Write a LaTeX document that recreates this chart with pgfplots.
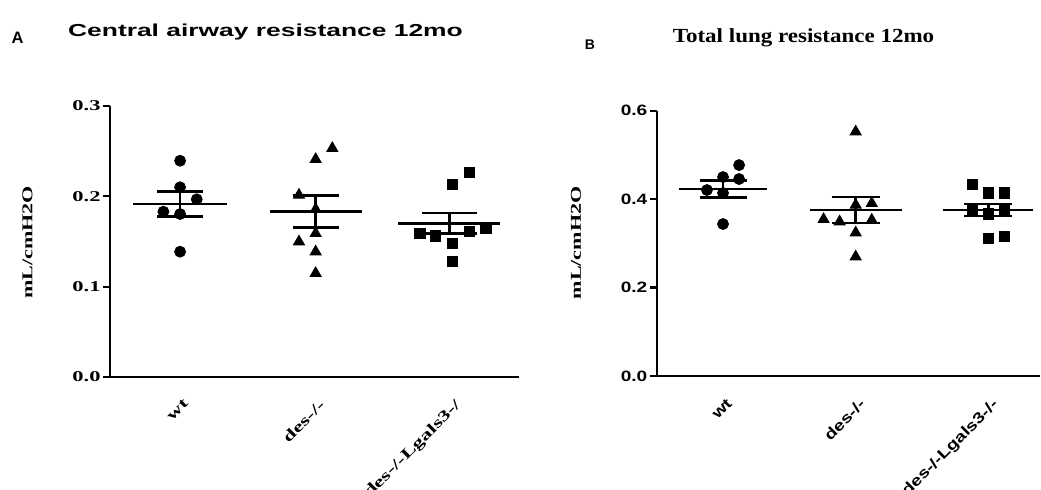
\documentclass[border=0pt]{standalone}
\usepackage{fontspec}
\usepackage{graphicx}
\usepackage{pgfplots}
\pgfplotsset{compat=1.18}
\newfontfamily\arial{Liberation Sans}
\newfontfamily\tnr{Liberation Serif}
\newcommand\sT[1]{\scalebox{1.5}[1]{#1}}
\newcommand\sS[1]{\scalebox{1.27}[1]{#1}}
\begin{document}
\begin{tikzpicture}
\path[use as bounding box] (0,0) rectangle (520.5pt,245pt);
\pgfplotsset{
 common/.style={
  scale only axis, axis lines=left, axis line style={line width=1.2pt, -},
  enlargelimits=false, ymin=0, xtick={0,1,2}, xtick style={draw=none},
  tick align=outside, major tick length=3.5pt,
  ytick style={line width=1.1pt, black},
  clip=false,
  xticklabel style={rotate=45, anchor=north east, inner sep=0pt, yshift=-6pt, xshift=-4pt},
  yticklabel style={inner sep=1pt},
 },
 pts/.style={only marks, black, mark options={fill=black, draw=black, line width=0.5pt}},
 mean/.style 2 args={only marks, black, mark=-, mark size=#1, mark options={line width=1.4pt},
   error bars/.cd, y dir=both, y explicit, error mark=|, error bar style={line width=1.4pt},
   error mark options={mark size=#2, line width=1.4pt}},
}
% ---------- Panel A ----------
\begin{axis}[common, at={(55pt,56.5pt)}, anchor=south west,
  width=204.5pt, height=135.5pt, xmin=-0.517, xmax=2.5, ymax=0.3,
  ytick={0,0.1,0.2,0.3}, yticklabels={\sT{0.0},\sT{0.1},\sT{0.2},\sT{0.3}},
  yticklabel style={font=\tnr\bfseries\fontsize{7.5}{9}\selectfont},
  xticklabels={\sT{wt},\sT{des-/-},\sT{des-/-Lgals3-/}},
  xticklabel style={font=\tnr\bfseries\fontsize{7.5}{9}\selectfont}]
\addplot[mean={23.5pt}{11.5pt}] coordinates {(0,0.1915) +- (0,0.0139)};
\addplot[mean={23pt}{11.5pt}] coordinates {(1,0.183) +- (0,0.0175)};
\addplot[mean={25.5pt}{13.75pt}] coordinates {(1.985,0.1701) +- (0,0.0115)};
\addplot[pts, mark=*, mark size=2.7pt] coordinates {(0,0.2394) (0,0.210) (0.123,0.1967) (-0.123,0.183) (0,0.1804) (0,0.1387)};
\addplot[pts, mark=triangle*, mark size=3.1pt] coordinates {(1.123,0.2532) (1,0.241) (0.877,0.2015) (1,0.1856) (1,0.159) (0.877,0.1498) (1,0.1387) (1,0.1148)};
\addplot[pts, mark=square*, mark size=2.6pt] coordinates {(2.135,0.2262) (2.01,0.2133) (1.77,0.1591) (1.882,0.1561) (2.135,0.1609) (2.256,0.1646) (2.01,0.148) (2.01,0.1276)};
\end{axis}
% ---------- Panel B ----------
\begin{axis}[common, at={(328.35pt,57pt)}, anchor=south west,
  width=191.7pt, height=132.65pt, xmin=-0.5, xmax=2.39, ymax=0.6,
  ytick={0,0.2,0.4,0.6}, yticklabels={\sS{0.0},\sS{0.2},\sS{0.4},\sS{0.6}},
  yticklabel style={font=\arial\bfseries\fontsize{7.5}{9}\selectfont},
  xticklabels={\sS{wt},\sS{des-/-},\sS{des-/-Lgals3-/-}},
  xticklabel style={font=\arial\bfseries\fontsize{7.5}{9}\selectfont}]
\addplot[mean={22pt}{11.75pt}] coordinates {(0,0.4229) +- (0,0.0188)};
\addplot[mean={23pt}{12pt}] coordinates {(1,0.3754) +- (0,0.0294)};
\addplot[mean={22.5pt}{12pt}] coordinates {(2,0.3754) +- (0,0.0136)};
\addplot[pts, mark=*, mark size=2.7pt] coordinates {(0.121,0.477) (0,0.450) (0.121,0.4455) (-0.121,0.4206) (0,0.4138) (0,0.3437)};
\addplot[pts, mark=triangle*, mark size=3.1pt] coordinates {(1,0.5525) (1,0.3867) (1.121,0.3905) (0.758,0.3543) (0.879,0.349) (1.121,0.3528) (1,0.324) (1,0.2698)};
\addplot[pts, mark=square*, mark size=2.6pt] coordinates {(1.879,0.433) (2,0.414) (2.121,0.414) (1.879,0.376) (2.121,0.376) (2,0.366) (2,0.311) (2.121,0.316)};
\end{axis}
% ---------- Texts ----------
\node[font=\arial\bfseries\fontsize{8.25}{10}\selectfont, anchor=base] at (132.75pt,226.65pt) {\scalebox{1.6}[1.05]{Central airway resistance 12mo}};
\node[font=\arial\bfseries\fontsize{8.25}{10}\selectfont, anchor=base] at (8.75pt,223.35pt) {A};
\node[font=\tnr\bfseries\fontsize{10}{12}\selectfont, anchor=base] at (401.75pt,223.65pt) {\scalebox{1.15}[1]{Total lung resistance 12mo}};
\node[font=\arial\bfseries\fontsize{7}{8}\selectfont, anchor=base] at (295pt,220pt) {B};
\node[font=\tnr\bfseries\fontsize{7.5}{9}\selectfont, rotate=90] at (13.75pt,123.75pt) {\scalebox{1.47}[1]{mL/cmH2O}};
\node[font=\tnr\bfseries\fontsize{7.5}{9}\selectfont, rotate=90] at (288pt,123.5pt) {\scalebox{1.47}[1]{mL/cmH2O}};
\end{tikzpicture}
\end{document}
